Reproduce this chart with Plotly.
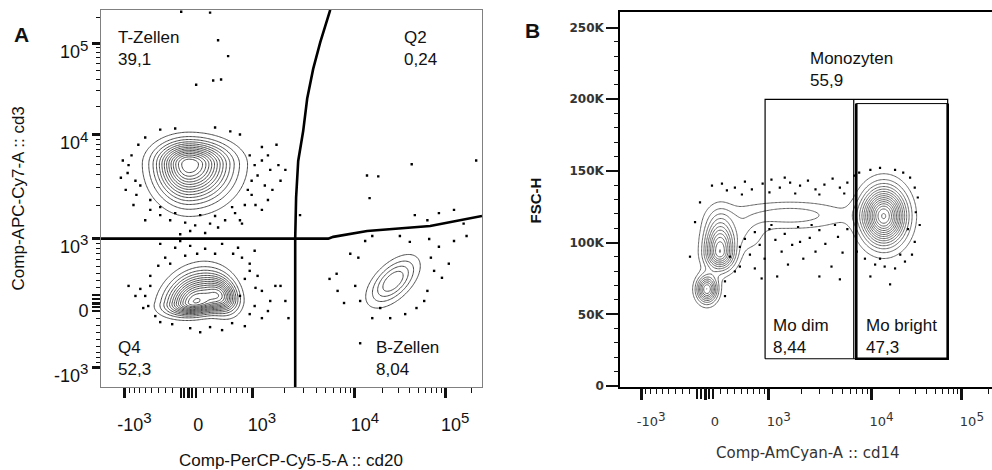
import numpy as np
import plotly.graph_objects as go

# ---------------- biexponential (logicle-like) display scale ----------------
BIEX_Q = 10.0
BIEX_P = np.sqrt(BIEX_Q + 1.0)
BIEX_K = 114.5
_tt = np.linspace(0.0, 10.0, 40001)
_vv = BIEX_K * (np.exp(_tt) + BIEX_Q - (BIEX_Q + 1.0) * np.exp(-_tt / BIEX_P))


def biex(v):
    v = np.asarray(v, dtype=float)
    return np.sign(v) * np.interp(np.abs(v), _vv, _tt)


# ---------------- axis ticks ----------------
log_tick_vals = [-1000, 0, 1000, 10000, 100000]
log_tick_exp = ["-10|3", "0", "10|3", "10|4", "10|5"]
log_zero_cluster = [-100, -50, 0, 50, 100]
log_minor_vals = ([-900, -800, -700, -600, -500, -400, -300, -200,
                   200, 300, 400, 500, 600, 700, 800, 900] +
                  [2000, 3000, 4000, 5000, 6000, 7000, 8000, 9000] +
                  [20000, 30000, 40000, 50000, 60000, 70000, 80000, 90000] +
                  [200000])
fsc_tick_vals = [0, 50000, 100000, 150000, 200000, 250000]
fsc_tick_text = ["0", "50K", "100K", "150K", "200K", "250K"]
fsc_minor_vals = [v for v in range(10000, 260000, 10000) if v % 50000]

# ---------------- Panel A : CD20 (x) vs CD3 (y) ----------------
a_x_range = [-1650, 262144]
a_y_range = [-1520, 241600]

# population density model (centres in data units, spreads in display units)
popA_name = ["T-Zellen", "Q4 a", "Q4 b", "B-Zellen"]
popA_cx = [13, 91, 462, 26000]
popA_cy = [5000, 13, 89, 285]
popA_sx_left = [0.53, 0.47, 0.27, 0.40]
popA_sx_right = [0.66, 0.45, 0.27, 0.40]
popA_sy_down = [0.585, 0.21, 0.29, 0.39]
popA_sy_up = [0.36, 0.46, 0.30, 0.39]
popA_rho = [0.0, 0.2, -0.2, 0.57]
popA_peak = [15, 14, 8, 5]

# quadrant gate
gateA_vert_x = [2520, 2520, 2570, 2690, 3000, 3280, 3750, 4400, 5550]
gateA_vert_y = [-1520, 1000, 2400, 5400, 11000, 24700, 52500, 104000, 241600]
gateA_horz_x = [-1650, 5300, 5950, 13560, 67700, 262144]
gateA_horz_y = [1000, 1000, 1040, 1180, 1310, 1620]

# outlier events
dotsA_x = [-1035, -930, -850, -970, -757, -687, -812, -604, -375, 360, 757, 950,
           1060, 1130, 1240, 1320, 1480, 1690, 1840, 992, 850, 1080, 670, 508,
           290, 91, -39, -237, -375, -523, 26, 223, -104, 403, 757, 1410, 1760,
           -1080,
           -910, -775, -722, -523, -375, -170, 157, 360, 620, 910, 992, 1240,
           1410, 1550, 2040, 590, -170, -604, 1240, 795,
           403, 555, 104, 333, 447, -91, 290,
           13500, 17900, 42000, 14400, 2800, 45500, 85000, 126000, 162000, 63000,
           225000,
           -375, -170, 26, 223, 462, 722, 1060, -305, 950, 1130, 1240, 1480, 1650,
           2040, -604, -523, -687, -447, -210, 26, 290, 620, 950, 1240, -910, 850,
           757, 2180, 637, 117, -104, -555,
           -403, -523, -637, -375, 157, 462, 850, 1060, 1410, 1080, 950, 795, 360,
           -39, -237, -775, 1840,
           5460, 6450, 8950, 10900, 12900, 15400, 31000, 40000, 66000, 85000,
           126000, 175000, 75000, 92000, 63000, 47500, 35500, 24200, 15400, 11400,
           7700, 6600, 10100, 69000, 58000, 18800, 110000, 11400]
dotsA_y = [5460, 4100, 6150, 2820, 2530, 3100, 2040, 9400, 11400, 12000, 10100,
           6150, 4900, 3880, 5460, 3100, 4400, 7900, 3450, 2530, 2040, 2040, 1720,
           1480, 1380, 1330, 1410, 1480, 1650, 1840, 1180, 1130, 1100, 1270, 1480,
           2270, 4900, 3680,
           4900, 3450, 7900, 2270, 1950, 1720, 1650, 1620, 1950, 2820, 3450, 7500,
           6150, 2820, 4400, 10900, 11700, 1480, 1840, 1380,
           110000, 73000, 35000, 39000, 40000, 230000, 225000,
           3880, 3800, 5000, 2360, 1650, 1650, 1720, 1840, 1380, 1480, 5460,
           890, 815, 850, 795, 890, 815, 757, 637, 540, 360, 157, 26, 223, 26, 91,
           223, 183, -170, -278, -333, -318, -264, -144, -197, 223, 318, 91, -197,
           705, 705, 950, -39,
           508, 360, -65, -250, -390, -360, -305, -39, -104, 197, 432, 637, 705,
           670, 540, 91, 223,
           318, 390, 705, 637, 950, 1060, 1060, 930, 992, 832, 950, 1060, 432,
           333, 157, -65, -144, -197, -197, 26, 0, 157, 223, 637, 26, -65, 540,
           -555]

# ---------------- Panel B : CD14 (x) vs FSC-H (y) ----------------
b_x_range = [-1576, 219500]
b_y_range = [-700, 261000]

popB_name = ["Lympho oben", "Lympho unten", "Brücke", "Mo bright", "Übergang"]
popB_cx = [195, 26, 1580, 13500, 604]
popB_cy = [93700, 67500, 119100, 118500, 105400]
popB_sx = [0.26, 0.18, 1.05, 0.37, 0.32]
popB_sy_down = [8260, 6200, 6600, 12700, 8260]
popB_sy_up = [15150, 6200, 6600, 12700, 8260]
popB_peak = [11, 9, 2.6, 15, 1.6]

gate_mono_x = [920, 69000, 69000, 920, 920]
gate_mono_y = [19000, 19000, 200000, 200000, 19000]
gate_dim_right_x = [6500, 6500]
gate_dim_right_y = [19000, 200000]
gate_bright_x = [6900, 6900, 69000, 69000]
gate_bright_y = [197000, 19000, 19000, 197000]
gate_bright_top_x = [6900, 69000]
gate_bright_top_y = [197000, 197000]

dotsB_x = [91, 223, 403, 555, 670, 870, 1060, 1270, 1580, 1950, 2310, 2720, 3310,
           3980, 4700, 5590, 1014, 1760, 2960, 508, 290, 1410, 5200,
           7400, 9700, 12300, 17900, 22000, 26200, 29500, 31900, 30300, 33500,
           29500, 27500, 23000, 17900, 13800, 10900, 8500, 7000, 15800, 9700,
           12300, 20400, 6600, 24800,
           477, 555, 637, 722, 812, 910, 1014, 1155, 1320, 1410, 1650, 1870, 2090,
           2400, 2720, 2960, 3380, 3880, 4500, 5000, 5590, 722, 1200, 1510, 2960,
           4700, 850, 333, 403, 264, 1950, 1060, 2500, 4200, -65, -130, -197, 477,
           264]
dotsB_y = [139800, 141200, 138400, 142600, 137100, 141200, 143900, 138400, 141900,
           139800, 143200, 137100, 140500, 144600, 138400, 141900, 135000, 134300,
           133600, 133600, 136400, 145300, 134300,
           148800, 150800, 152200, 150800, 148800, 145300, 138400, 131500, 121200,
           112300, 100500, 91600, 86800, 82000, 83300, 84700, 88800, 93700, 70900,
           76400, 88800, 91600, 146700, 109500,
           97100, 102600, 91600, 107400, 98500, 88800, 109500, 101900, 93700,
           106100, 98500, 110900, 88800, 103300, 93700, 108800, 99200, 83300,
           104000, 93000, 109500, 82000, 76400, 84700, 76400, 74400, 75000, 90200,
           79900, 73000, 100500, 112300, 112300, 112300, 128100, 114300, 90200,
           83300, 62700]


def density(X, Y, cx, cy, sxl, sxr, syd, syu, rho, peak):
    dx = X - cx
    dy = Y - cy
    sx = np.where(dx < 0, sxl, sxr)
    sy = np.where(dy < 0, syd, syu)
    u = dx / sx
    w = dy / sy
    r2 = (u * u - 2 * rho * u * w + w * w) / (1 - rho * rho)
    return peak * np.exp(-0.5 * r2)


# grid A (display units on both axes)
axr = biex(a_x_range)
ayr = biex(a_y_range)
gxa = np.linspace(axr[0], axr[1], 280)
gya = np.linspace(ayr[0], ayr[1], 280)
XA, YA = np.meshgrid(gxa, gya)
ZA = np.zeros_like(XA)
for i in range(len(popA_name)):
    ZA += density(XA, YA, biex(popA_cx[i]), biex(popA_cy[i]), popA_sx_left[i],
                  popA_sx_right[i], popA_sy_down[i], popA_sy_up[i], popA_rho[i],
                  popA_peak[i])

# grid B (display units on x, linear on y)
bxr = biex(b_x_range)
gxb = np.linspace(bxr[0], bxr[1], 280)
gyb = np.linspace(b_y_range[0], b_y_range[1], 280)
XB, YB = np.meshgrid(gxb, gyb)
ZB = np.zeros_like(XB)
for i in range(len(popB_name)):
    ZB += density(XB, YB, biex(popB_cx[i]), popB_cy[i], popB_sx[i], popB_sx[i],
                  popB_sy_down[i], popB_sy_up[i], 0.0, popB_peak[i])

fig = go.Figure()

fig.add_trace(go.Contour(
    x=gxa, y=gya, z=ZA, xaxis="x", yaxis="y",
    contours=dict(coloring="lines", start=1, end=40, size=1, showlabels=False),
    line=dict(width=1, smoothing=1.0),
    colorscale=[[0, "#4a4a4a"], [1, "#4a4a4a"]], showscale=False,
    hoverinfo="skip"))
fig.add_trace(go.Scatter(
    x=biex(dotsA_x), y=biex(dotsA_y), mode="markers", xaxis="x", yaxis="y",
    marker=dict(size=2.4, color="black", symbol="square", line=dict(width=0)),
    hoverinfo="skip"))
fig.add_trace(go.Scatter(
    x=biex(gateA_vert_x), y=biex(gateA_vert_y), mode="lines", xaxis="x", yaxis="y",
    line=dict(color="black", width=2.6), hoverinfo="skip"))
fig.add_trace(go.Scatter(
    x=biex(gateA_horz_x), y=biex(gateA_horz_y), mode="lines", xaxis="x", yaxis="y",
    line=dict(color="black", width=2.6), hoverinfo="skip"))

fig.add_trace(go.Contour(
    x=gxb, y=gyb, z=ZB, xaxis="x2", yaxis="y2",
    contours=dict(coloring="lines", start=1, end=40, size=1, showlabels=False),
    line=dict(width=1, smoothing=1.0),
    colorscale=[[0, "#666666"], [1, "#666666"]], showscale=False,
    hoverinfo="skip"))
fig.add_trace(go.Scatter(
    x=biex(dotsB_x), y=dotsB_y, mode="markers", xaxis="x2", yaxis="y2",
    marker=dict(size=2.2, color="black", symbol="square", line=dict(width=0)),
    hoverinfo="skip"))
fig.add_trace(go.Scatter(
    x=biex(gate_mono_x), y=gate_mono_y, mode="lines", xaxis="x2", yaxis="y2",
    line=dict(color="black", width=1.2), hoverinfo="skip"))
fig.add_trace(go.Scatter(
    x=biex(gate_dim_right_x), y=gate_dim_right_y, mode="lines", xaxis="x2",
    yaxis="y2", line=dict(color="black", width=1.2), hoverinfo="skip"))
fig.add_trace(go.Scatter(
    x=biex(gate_bright_x), y=gate_bright_y, mode="lines", xaxis="x2", yaxis="y2",
    line=dict(color="black", width=2.6), hoverinfo="skip"))
fig.add_trace(go.Scatter(
    x=biex(gate_bright_top_x), y=gate_bright_top_y, mode="lines", xaxis="x2",
    yaxis="y2", line=dict(color="black", width=1.0), hoverinfo="skip"))

# empty traces so that the tick-only overlay axes are instantiated
for xa, ya in [("x3", "y"), ("x", "y3"), ("x5", "y"), ("x", "y5"),
               ("x4", "y2"), ("x2", "y4"), ("x6", "y2")]:
    fig.add_trace(go.Scatter(x=[], y=[], xaxis=xa, yaxis=ya, hoverinfo="skip"))

W, H = 992, 470


def px(x):
    return x / W


def py(y):
    return (H - y) / H


arial = "Liberation Sans, Arial, sans-serif"
lucida = "DejaVu Sans, Verdana, sans-serif"


def exp_labels(sup_px):
    out = []
    for s in log_tick_exp:
        if "|" in s:
            base, ex = s.split("|")
            out.append("%s<sup><span style='font-size:%dpx'>%s</span></sup>"
                       % (base, sup_px, ex))
        else:
            out.append(s)
    return out


def tick_only(overlay, anchor, rng, vals, ln, wd, side):
    return dict(overlaying=overlay, anchor=anchor, range=list(rng), side=side,
                tickmode="array", tickvals=list(vals), ticks="outside",
                ticklen=ln, tickwidth=wd, tickcolor="#111",
                showticklabels=False, showline=False, showgrid=False,
                zeroline=False)


fig.update_layout(
    width=W, height=H, margin=dict(l=0, r=0, t=0, b=0, pad=0),
    paper_bgcolor="white", plot_bgcolor="white", showlegend=False,
    xaxis=dict(domain=[px(101), px(482)], range=list(axr), anchor="y",
               tickmode="array", tickvals=list(biex(log_tick_vals)),
               ticktext=exp_labels(15), ticks="outside", tickcolor="#111",
               ticklen=10, tickwidth=2.5, showline=True, linecolor="#808080",
               linewidth=1, mirror=True, ticklabelshift=10,
               ticklabelstandoff=11, showgrid=False, zeroline=False,
               tickfont=dict(family=arial, size=18, color="#111")),
    yaxis=dict(domain=[py(392), py(10)], range=list(ayr), anchor="x",
               tickmode="array", tickvals=list(biex(log_tick_vals)),
               ticktext=exp_labels(15), ticks="outside", tickcolor="#111",
               ticklen=8, tickwidth=2.5, showline=True, linecolor="#808080",
               linewidth=1, mirror=True, ticklabelshift=8, showgrid=False,
               zeroline=False,
               tickfont=dict(family=arial, size=18, color="#111")),
    xaxis2=dict(domain=[px(620), 1.0], range=list(bxr), anchor="y2",
                tickmode="array", tickvals=list(biex(log_tick_vals)),
                ticktext=exp_labels(12), ticks="outside", tickcolor="#111",
                ticklen=11, tickwidth=2.5, showline=True, linecolor="black",
                linewidth=1.5, mirror=True, ticklabelshift=10,
                ticklabelstandoff=11, showgrid=False, zeroline=False,
                tickfont=dict(family=lucida, size=13, color="#333")),
    yaxis2=dict(domain=[py(392), py(12)], range=b_y_range, anchor="x2",
                tickmode="array", tickvals=fsc_tick_vals, ticktext=fsc_tick_text,
                ticks="outside", ticklen=12, tickwidth=2, tickcolor="#111",
                showline=True, linecolor="black", linewidth=1.5, mirror=False,
                showgrid=False, zeroline=False,
                tickfont=dict(family=lucida, size=12, color="#333",
                              weight="bold")),
    xaxis3=tick_only("x", "y", axr, biex(log_minor_vals), 5, 1, "bottom"),
    yaxis3=tick_only("y", "x", ayr, biex(log_minor_vals), 4, 1, "left"),
    xaxis5=tick_only("x", "y", axr, biex(log_zero_cluster), 10, 2, "bottom"),
    yaxis5=tick_only("y", "x", ayr, biex(log_zero_cluster), 8, 2, "left"),
    xaxis4=tick_only("x2", "y2", bxr, biex(log_minor_vals), 6, 1, "bottom"),
    yaxis4=tick_only("y2", "x2", b_y_range, fsc_minor_vals, 5, 1.2, "left"),
    xaxis6=tick_only("x2", "y2", bxr, biex(log_zero_cluster), 11, 2, "bottom"),
)

ann = []


def add_text(text, x, y, size=17, family=arial, color="#111", xanchor="left",
             yanchor="middle", textangle=0, bold=False):
    ann.append(dict(text=("<b>%s</b>" % text) if bold else text, x=px(x), y=py(y),
                    xref="paper", yref="paper", showarrow=False, xanchor=xanchor,
                    yanchor=yanchor, textangle=textangle, align="left",
                    font=dict(family=family, size=size, color=color)))


add_text("A", 21, 35, size=21, xanchor="center", bold=True)
add_text("B", 532, 31, size=21, xanchor="center", bold=True)
add_text("T-Zellen<br>39,1", 116, 49)
add_text("Q2<br>0,24", 402, 49)
add_text("Q4<br>52,3", 116, 363)
add_text("B-Zellen<br>8,04", 374, 363)
add_text("Monozyten<br>55,9", 808, 70)
add_text("Mo dim<br>8,44", 771, 341)
add_text("Mo bright<br>47,3", 864, 341)
add_text("Comp-PerCP-Cy5-5-A :: cd20", 291, 466, xanchor="center")
add_text("Comp-APC-Cy7-A :: cd3", 18, 201, xanchor="center", textangle=-90)
add_text("Comp-AmCyan-A :: cd14", 808, 459, size=15, family=lucida,
         color="#333", xanchor="center")
add_text("FSC-H", 535, 203, size=15, xanchor="center", textangle=-90, bold=True)
fig.update_layout(annotations=ann)

fig.write_html("out.html", config={"displayModeBar": False},
               post_script="document.body.style.margin='0px';"
                           "document.body.style.padding='0px';")
